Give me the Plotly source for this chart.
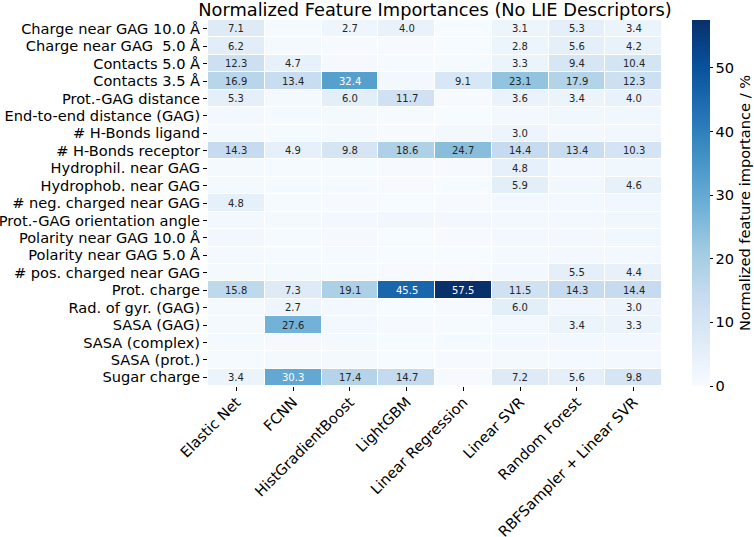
import plotly.graph_objects as go
import plotly.express as px

models = ["Elastic Net", "FCNN", "HistGradientBoost", "LightGBM", "Linear Regression",
          "Linear SVR", "Random Forest", "RBFSampler + Linear SVR"]

features = [
    "Charge near GAG 10.0 Å",
    "Charge near GAG \u00a05.0 Å",
    "Contacts 5.0 Å",
    "Contacts 3.5 Å",
    "Prot.-GAG distance",
    "End-to-end distance (GAG)",
    "# H-Bonds ligand",
    "# H-Bonds receptor",
    "Hydrophil. near GAG",
    "Hydrophob. near GAG",
    "# neg. charged near GAG",
    "Prot.-GAG orientation angle",
    "Polarity near GAG 10.0 Å",
    "Polarity near GAG 5.0 Å",
    "# pos. charged near GAG",
    "Prot. charge",
    "Rad. of gyr. (GAG)",
    "SASA (GAG)",
    "SASA (complex)",
    "SASA (prot.)",
    "Sugar charge",
]

# one list per model (column), values in feature order (top to bottom)
elastic_net   = [7.1, 6.2, 12.3, 16.9, 5.3, 1.5, 1.0, 14.3, 0.8, 1.0, 4.8, 1.5, 1.8, 1.0, 1.0, 15.8, 1.0, 0.8, 1.0, 0.6, 3.4]
fcnn          = [0.5, 0.8, 4.7, 13.4, 0.8, 0.5, 0.6, 4.9, 0.5, 0.6, 0.5, 0.8, 0.6, 0.5, 0.8, 7.3, 2.7, 27.6, 0.7, 0.9, 30.3]
hist_gb       = [2.7, 0.4, 0.7, 32.4, 6.0, 1.0, 0.8, 9.8, 0.6, 0.5, 0.4, 1.2, 0.7, 0.5, 0.6, 19.1, 1.2, 1.5, 1.0, 0.9, 17.4]
lightgbm      = [4.0, 0.3, 0.5, 1.5, 11.7, 0.5, 0.3, 18.6, 0.3, 0.3, 0.2, 1.6, 0.2, 0.2, 0.3, 45.5, 0.2, 0.3, 0.2, 0.2, 14.7]
linear_reg    = [0.2, 0.2, 0.6, 9.1, 0.4, 0.2, 1.2, 24.7, 0.3, 0.2, 0.3, 1.2, 0.3, 0.2, 0.4, 57.5, 0.3, 0.6, 0.5, 0.4, 0.4]
linear_svr    = [3.1, 2.8, 3.3, 23.1, 3.6, 1.5, 3.0, 14.4, 4.8, 5.9, 1.3, 1.4, 1.2, 1.0, 1.5, 11.5, 6.0, 1.2, 1.2, 1.0, 7.2]
random_forest = [5.3, 5.6, 9.4, 17.9, 3.4, 2.0, 1.5, 13.4, 1.5, 1.6, 1.5, 1.5, 1.4, 1.3, 5.5, 14.3, 1.6, 3.4, 1.2, 1.1, 5.6]
rbf_svr       = [3.4, 4.2, 10.4, 12.3, 4.0, 2.0, 1.6, 10.3, 2.0, 4.6, 1.8, 2.0, 2.0, 1.5, 4.4, 14.4, 3.0, 3.3, 1.5, 1.4, 9.8]

columns = [elastic_net, fcnn, hist_gb, lightgbm, linear_reg, linear_svr, random_forest, rbf_svr]
z = [[col[i] for col in columns] for i in range(len(features))]

label_min = 2.5
zmax = max(max(r) for r in z)

L, R, T, B = 208, 92, 20, 151
W, H = 754, 537
plot_w = W - L - R
FS = 14.6

fig = go.Figure(go.Heatmap(
    z=z, x=models, y=features,
    colorscale=px.colors.sequential.Blues,
    zmin=0, zmax=zmax,
    xgap=1, ygap=1,
    hoverongaps=False,
    colorbar=dict(
        thickness=18, len=1, lenmode="fraction",
        x=(692 - L) / plot_w, xref="paper", xanchor="left", xpad=0,
        y=0.5, yanchor="middle", ypad=0,
        outlinewidth=0,
        tickvals=[0, 10, 20, 30, 40, 50],
        ticks="outside", ticklen=3, tickcolor="black",
        tickfont=dict(family="DejaVu Sans", size=FS, color="black"),
        title=dict(text="Normalized feature importance / %", side="right",
                   font=dict(family="DejaVu Sans", size=FS, color="black")),
    ),
))

annotations = []
for i, f in enumerate(features):
    for j, m in enumerate(models):
        v = z[i][j]
        if v >= label_min:
            annotations.append(dict(
                x=m, y=f, xref="x", yref="y", text=f"{v:.1f}", showarrow=False,
                font=dict(family="DejaVu Sans", size=10,
                          color="white" if v / zmax > 0.5 else "#262626"),
            ))

fig.update_layout(
    width=W, height=H,
    margin=dict(l=L, r=R, t=T, b=B, autoexpand=False),
    paper_bgcolor="white", plot_bgcolor="white",
    font=dict(family="DejaVu Sans", color="black"),
    title=dict(text="Normalized Feature Importances (No LIE Descriptors)",
               x=0.5, xref="paper", xanchor="center",
               y=1 - 10 / H, yref="container", yanchor="middle",
               font=dict(family="DejaVu Sans", size=17.8, color="black")),
    annotations=annotations,
)
fig.update_xaxes(tickangle=-45, ticks="outside", ticklen=4, tickcolor="black",
                 tickmode="array", tickvals=models, ticktext=models,
                 ticklabelstandoff=-3,
                 tickfont=dict(family="DejaVu Sans", size=FS, color="black"),
                 showgrid=False, zeroline=False, showline=False, automargin=False)
fig.update_yaxes(autorange="reversed", ticks="outside", ticklen=4, tickcolor="black",
                 tickmode="array", tickvals=features, ticktext=features,
                 tickfont=dict(family="DejaVu Sans", size=FS, color="black"),
                 showgrid=False, zeroline=False, showline=False, automargin=False)

fig.write_html("out.html")
